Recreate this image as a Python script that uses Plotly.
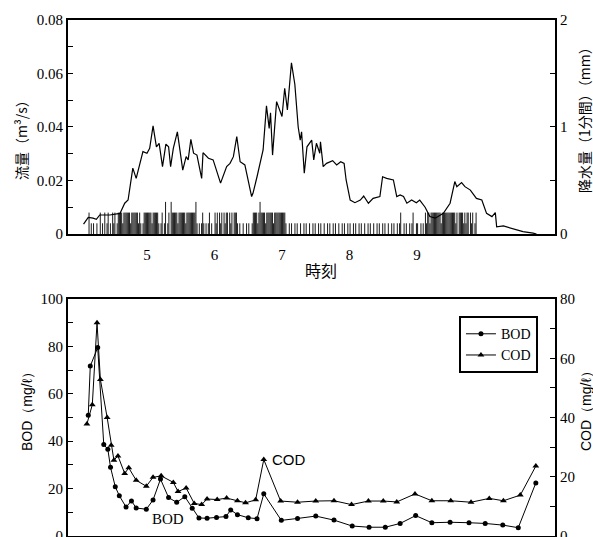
import plotly.graph_objects as go

# ---------------- data ----------------
# top panel: discharge (m3/s) vs clock time (hours)
flow_time = [4.06, 4.13, 4.20, 4.25, 4.30, 4.45, 4.60, 4.67, 4.72, 4.79, 4.84, 4.90, 4.94, 5.00,
             5.04, 5.09, 5.14, 5.18, 5.23, 5.28, 5.32, 5.35, 5.39, 5.45, 5.53, 5.58, 5.61, 5.65,
             5.69, 5.74, 5.81, 5.83, 5.91, 5.98, 6.09, 6.18, 6.23, 6.28, 6.33, 6.38, 6.45, 6.55,
             6.57, 6.63, 6.67, 6.72, 6.77, 6.81, 6.83, 6.86, 6.92, 7.00, 7.04, 7.08, 7.14, 7.19,
             7.24, 7.27, 7.29, 7.33, 7.37, 7.44, 7.47, 7.51, 7.56, 7.57, 7.61, 7.66, 7.75, 7.81,
             7.87, 7.92, 7.95, 8.01, 8.08, 8.16, 8.21, 8.28, 8.35, 8.45, 8.49, 8.55, 8.65, 8.70,
             8.75, 8.80, 8.85, 8.92, 8.99, 9.04, 9.12, 9.19, 9.27, 9.39, 9.49, 9.56, 9.59, 9.66,
             9.71, 9.79, 9.88, 9.96, 10.03, 10.11, 10.16, 10.18, 10.28, 10.35, 10.48, 10.57,
             10.72, 10.77]
flow_m3s = [0.0037, 0.0062, 0.0059, 0.0055, 0.0071, 0.0071, 0.0077, 0.0115, 0.0127, 0.0246,
            0.0208, 0.0264, 0.0308, 0.0302, 0.0320, 0.0404, 0.0326, 0.0339, 0.0252, 0.0336,
            0.0326, 0.0252, 0.0320, 0.0382, 0.0239, 0.0289, 0.0277, 0.0354, 0.0302, 0.0295,
            0.0208, 0.0304, 0.0283, 0.0277, 0.0190, 0.0252, 0.0264, 0.0289, 0.0364, 0.0270,
            0.0258, 0.0140, 0.0152, 0.0214, 0.0264, 0.0314, 0.0479, 0.0395, 0.0453, 0.0295,
            0.0495, 0.0439, 0.0545, 0.0464, 0.0640, 0.0560, 0.0400, 0.0351, 0.0382, 0.0227,
            0.0326, 0.0351, 0.0277, 0.0339, 0.0302, 0.0345, 0.0252, 0.0264, 0.0274, 0.0258,
            0.0270, 0.0264, 0.0202, 0.0127, 0.0117, 0.0127, 0.0142, 0.0115, 0.0133, 0.0140,
            0.0214, 0.0208, 0.0202, 0.0140, 0.0146, 0.0140, 0.0115, 0.0127, 0.0117, 0.0127,
            0.0100, 0.0065, 0.0059, 0.0077, 0.0115, 0.0196, 0.0177, 0.0192, 0.0177, 0.0164,
            0.0133, 0.0127, 0.0077, 0.0065, 0.0080, 0.0027, 0.0030, 0.0025, 0.0015, 0.0009,
            0.0003, 0.0000]

# one-minute rainfall, one string per clock hour (4h ... 9h), digit = rainfall in 0.1 mm
rain_first_hour = 4
rain_rows_01mm = [
    "00000000" "2" "010100100" "2010201201021201" "22221222222122222212" "101" "222",
    "2222122222" "101201" "3" "0120" "3" "222221222222122222222" "3" "1010121010120100",
    "21202120212202120222" "10100100101001" "222212" "3" "2222122222212222222",
    "222" "1001010010" "1001001010" "0100101001" "0100100101" "0010100100" "1010010",
    "1001010010" "1001001010" "0100101001" "0100100101" "00101" "2" "0010100101" "2" "001",
    "1001010" "2122" "12" "22222222" "12222222" "22222120" "22221212" "20212" "01" "2" "0000000",
]

# bottom panel: BOD (left axis) and COD (right axis), mg/l
bod_time = [4.13, 4.16, 4.27, 4.36, 4.42, 4.46, 4.53, 4.59, 4.69, 4.77, 4.84, 4.99, 5.09, 5.20,
            5.32, 5.44, 5.56, 5.67, 5.77, 5.89, 6.03, 6.17, 6.24, 6.34, 6.50, 6.63, 6.73, 6.99,
            7.23, 7.50, 7.77, 8.04, 8.29, 8.53, 8.75, 8.98, 9.22, 9.49, 9.77, 10.01, 10.27,
            10.50, 10.76]
bod_mgl = [51.0, 71.7, 79.5, 38.6, 36.6, 29.0, 20.8, 17.0, 12.2, 14.8, 11.8, 11.3, 15.2, 24.0,
           16.2, 14.2, 16.6, 11.7, 7.6, 7.5, 7.8, 8.2, 11.0, 9.0, 7.7, 7.3, 17.8, 6.6, 7.4, 8.4,
           6.7, 4.2, 3.7, 3.7, 5.3, 8.6, 5.6, 5.8, 5.6, 5.3, 4.6, 3.5, 22.4]
cod_time = [4.11, 4.19, 4.26, 4.31, 4.41, 4.47, 4.51, 4.57, 4.67, 4.73, 4.84, 4.99, 5.09, 5.21,
            5.39, 5.46, 5.58, 5.70, 5.81, 5.89, 6.04, 6.18, 6.34, 6.46, 6.61, 6.73, 6.98, 7.23,
            7.50, 7.77, 8.03, 8.28, 8.50, 8.70, 8.97, 9.22, 9.50, 9.80, 10.07, 10.28, 10.53,
            10.76]
cod_mgl = [37.8, 44.3, 72.0, 52.8, 40.0, 30.6, 25.6, 27.0, 21.1, 23.0, 18.8, 16.8, 19.8, 20.3,
           18.1, 15.0, 16.2, 11.0, 10.6, 12.5, 12.3, 12.8, 11.9, 11.2, 12.2, 25.8, 11.8, 11.4,
           11.8, 11.9, 10.6, 11.8, 11.8, 11.5, 14.2, 11.9, 11.9, 11.4, 12.7, 11.9, 13.8, 23.6]

hour_ticks = [5, 6, 7, 8, 9]
flow_tickvals = [0, 0.01, 0.02, 0.03, 0.04, 0.05, 0.06, 0.07, 0.08]
flow_ticktext = ["0", "", "0.02", "", "0.04", "", "0.06", "", "0.08"]
rain_tickvals = [0, 0.5, 1, 1.5, 2]
rain_ticktext = ["0", "", "1", "", "2"]
bod_tickvals = [0, 10, 20, 30, 40, 50, 60, 70, 80, 90, 100]
bod_ticktext = ["0", "", "20", "", "40", "", "60", "", "80", "", "100"]
cod_tickvals = [0, 10, 20, 30, 40, 50, 60, 70, 80]
cod_ticktext = ["0", "", "20", "", "40", "", "60", "", "80"]

# ---------------- rain bars as thin vertical strokes ----------------
rain_x, rain_y = [], []
for i, row in enumerate(rain_rows_01mm):
    for m, ch in enumerate(row):
        if ch != "0":
            t = rain_first_hour + i + (m + 0.5) / 60.0
            rain_x += [t, t, None]
            rain_y += [0, int(ch) / 10.0, None]

SERIF = "Liberation Serif, Times New Roman, serif"
SANS = "Liberation Sans, Arial, sans-serif"
CJK = "Noto Sans CJK JP"
X_RANGE = [3.83, 11.044]

fig = go.Figure()
fig.add_trace(go.Scatter(x=rain_x, y=rain_y, xaxis="x", yaxis="y2", mode="lines",
                         line=dict(color="black", width=0.9), showlegend=False,
                         hoverinfo="skip"))
fig.add_trace(go.Scatter(x=flow_time, y=flow_m3s, xaxis="x", yaxis="y", mode="lines",
                         line=dict(color="black", width=1.2), showlegend=False))
fig.add_trace(go.Scatter(x=bod_time, y=bod_mgl, xaxis="x2", yaxis="y3", mode="lines+markers",
                         name="BOD", line=dict(color="black", width=1),
                         marker=dict(symbol="circle", size=5, color="black")))
fig.add_trace(go.Scatter(x=cod_time, y=cod_mgl, xaxis="x2", yaxis="y4", mode="lines+markers",
                         name="COD", line=dict(color="black", width=1),
                         marker=dict(symbol="triangle-up", size=6, color="black")))

tickfont = dict(family=SERIF, size=15, color="black")


def yax(**kw):
    d = dict(showline=True, linecolor="black", linewidth=2, showgrid=False, zeroline=False,
             tickfont=tickfont, ticks="inside", ticklen=5, tickcolor="black", tickwidth=1,
             ticklabeloverflow="allow")
    d.update(kw)
    return d


top_dom = [0.5853, 1.0]
bot_dom = [0.0, 0.4593]

fig.update_layout(
    template="none",
    width=593, height=537,
    margin=dict(l=68, r=38, t=20, b=1, autoexpand=False),
    paper_bgcolor="white", plot_bgcolor="white",
    font=dict(family=SERIF, color="black"),
    xaxis=dict(domain=[0, 1], anchor="y", range=X_RANGE, tickmode="array",
               tickvals=hour_ticks, showline=True, linecolor="black", linewidth=2,
               mirror=True, showgrid=False, zeroline=False, ticks="outside", ticklen=6,
               tickcolor="rgba(0,0,0,0)", tickfont=tickfont),
    yaxis=yax(domain=top_dom, anchor="x", range=[0, 0.08], tickmode="array",
              tickvals=flow_tickvals, ticktext=flow_ticktext),
    yaxis2=yax(overlaying="y", side="right", anchor="x", range=[0, 2], tickmode="array",
               tickvals=rain_tickvals, ticktext=rain_ticktext),
    xaxis2=dict(domain=[0, 1], anchor="y3", range=X_RANGE, showticklabels=False,
                showline=True, linecolor="black", linewidth=2, mirror=True,
                showgrid=False, zeroline=False, ticks=""),
    yaxis3=yax(domain=bot_dom, anchor="x2", range=[0, 100], tickmode="array",
               tickvals=bod_tickvals, ticktext=bod_ticktext),
    yaxis4=yax(overlaying="y3", side="right", anchor="x2", range=[0, 80], tickmode="array",
               tickvals=cod_tickvals, ticktext=cod_ticktext),
    legend=dict(x=0.965, y=0.426, xanchor="right", yanchor="top", bgcolor="white",
                bordercolor="black", borderwidth=2, itemwidth=30,
                font=dict(family=SERIF, size=14, color="black")),
)


def ann(text, x, y, font, angle=0, xref="paper", yref="paper"):
    fig.add_annotation(text=text, x=x, y=y, xref=xref, yref=yref, showarrow=False,
                       textangle=angle, font=font, xanchor="center", yanchor="middle")


def px_x(px):
    return (px - 68) / 487.0


def px_y(py):
    return (536 - py) / 516.0


cjk14 = dict(family=CJK, size=14, color="black")
ann("時刻", px_x(321), px_y(270), dict(family=CJK, size=16, color="black"))
ann("流量（m³/s）", px_x(21), px_y(137), cjk14, angle=-90)
ann("降水量（1分間）（mm）", px_x(584), px_y(117), cjk14, angle=-90)
ann("BOD（mg/ℓ）", px_x(27), px_y(408), dict(family=SANS, size=14, color="black"), angle=-90)
ann("COD（mg/ℓ）", px_x(586), px_y(408), dict(family=SANS, size=14, color="black"), angle=-90)

ann("COD", 7.10, 32.4, dict(family=SANS, size=15, color="black"), xref="x2", yref="y3")
ann("BOD", 5.31, 7.2, dict(family=SERIF, size=15, color="black"), xref="x2", yref="y3")

fig.write_html("out.html", config={"displayModeBar": False},
               post_script="document.body.style.margin='0';document.body.style.padding='0';")
